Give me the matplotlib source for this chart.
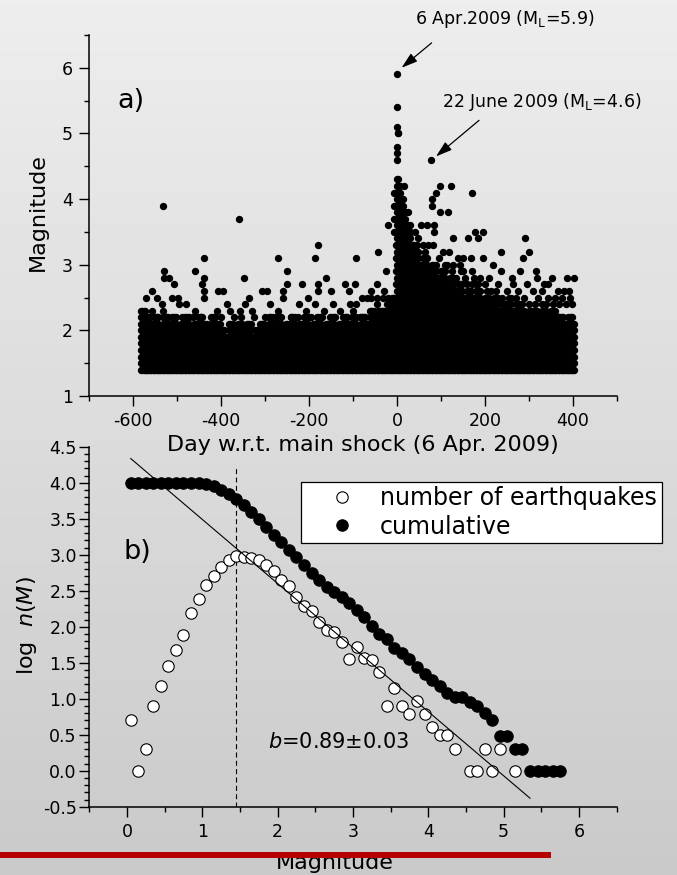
import numpy as np
import matplotlib
matplotlib.use('Agg')
import matplotlib.pyplot as plt
from matplotlib.lines import Line2D
from matplotlib.ticker import MultipleLocator, FormatStrFormatter

plt.rcParams['font.family'] = ['DejaVu Sans']
plt.rcParams['axes.unicode_minus'] = False
plt.rcParams['mathtext.default'] = 'regular'

# ---- panel a: catalogue, day relative to main shock vs magnitude ----
# dense part of the catalogue: day ranges and the top magnitude reached in each range
seg_start = [-582, -572, -562, -552, -542, -532, -522, -512, -502, -492,
             -482, -472, -462, -452, -442, -432, -422, -412, -402, -392,
             -382, -372, -362, -352, -342, -332, -322, -312, -302, -292,
             -282, -272, -262, -252, -242, -232, -222, -212, -202, -192,
             -182, -172, -162, -152, -142, -132, -122, -112, -102, -92,
             -82, -72, -62, -52, -42, -32, -22, -12,
             0, 5, 10, 15, 20, 30, 40, 50, 60, 70, 80, 90, 100, 110, 120, 130, 140,
             150, 160, 170, 180, 190, 200, 210, 220, 230, 240, 250, 260, 270, 280,
             290, 300, 310, 320, 330, 340, 350, 360, 370, 380, 390, 400]
seg_end = [-573, -563, -553, -543, -533, -523, -513, -503, -493, -483,
           -473, -463, -453, -443, -433, -423, -413, -403, -393, -383,
           -373, -363, -353, -343, -333, -323, -313, -303, -293, -283,
           -273, -263, -253, -243, -233, -223, -213, -203, -193, -183,
           -173, -163, -153, -143, -133, -123, -113, -103, -93, -83,
           -73, -63, -53, -43, -33, -23, -13, -1,
           4, 9, 14, 19, 29, 39, 49, 59, 69, 79, 89, 99, 109, 119, 129, 139, 149,
           159, 169, 179, 189, 199, 209, 219, 229, 239, 249, 259, 269, 279, 289,
           299, 309, 319, 329, 339, 349, 359, 369, 379, 389, 399, 405]
seg_top = [2.3, 2.2, 2.1, 2.2, 2.0, 2.2, 2.1, 2.2, 2.0, 2.1,
           2.2, 2.0, 2.1, 2.2, 2.1, 2.0, 2.2, 2.1, 2.0, 1.9,
           2.1, 2.0, 2.1, 2.0, 2.1, 1.9, 2.0, 2.1, 2.0, 2.2,
           2.1, 2.2, 2.0, 2.1, 2.2, 2.0, 2.1, 2.2, 2.0, 2.1,
           2.2, 2.0, 2.1, 2.2, 2.0, 2.1, 2.2, 2.1, 2.2, 2.0,
           2.2, 2.1, 2.3, 2.2, 2.3, 2.3, 2.4, 2.5,
           4.3, 4.2, 4.0, 3.8, 3.6, 3.3, 3.2, 3.0, 3.1, 2.9, 3.0, 2.8, 2.9, 2.7, 2.8, 2.6, 2.7,
           2.5, 2.6, 2.5, 2.6, 2.4, 2.5, 2.4, 2.5, 2.3, 2.4, 2.4, 2.3, 2.4, 2.3,
           2.2, 2.3, 2.3, 2.2, 2.3, 2.2, 2.3, 2.2, 2.2, 2.1, 2.2, 2.1]

# isolated events above the dense part
ev_day = [-533, -359, -180, -440, -271, -186, -92, -42,
          -529, -459, -251, -25, -529, -518, -438, -348, -161,
          -507, -444, -249, -215, -180, -118, -96, -46,
          -557, -438, -408, -395, -306, -296, -259, -180, -150, -110, -60, -30,
          -570, -547, -512, -499, -438, -336, -259, -202, -80, -69, -58, -45, -31, -20,
          -535, -495, -481, -386, -346, -289, -222, -186, -145, -107, -92, -46,
          -557, -533, -459, -409, -380, -357, -329, -270, -207, -165, -130, -100,
          -575, -545, -520, -490, -465, -445, -415, -400, -370, -355, -325,
          -300, -275, -240, -225, -195, -170, -140, -115, -85, -75,
          -6, -6, -6, -6, -3, -3, -3, -3,
          0, 1, 1, 2, 3, 1, 1, 1,
          77, 17, 98, 123, 88, 172, 79, 81, 26, 98, 117,
          -20, 56, 68, 85, 30, 41, 85, 178, 196,
          49, 128, 162, 185, 291, 71, 83,
          105, 119, 238, 301, 138, 151, 168, 195, 286,
          128, 143, 219, 238, 280, 316, 150, 170,
          261, 318, 353, 386, 403, 155, 190, 210,
          170, 181, 200, 295, 335, 344, 230, 265,
          367, 392, 215, 250, 275, 310, 330, 380,
          260, 290, 320, 345, 360, 375, 395,
          355, 370, 385, 398,
          45, 60, 95, 110, 65, 100, 115, 125, 135, 145, 160, 175,
          185, 205, 225, 240, 255, 270, 285, 300, 315, 330, 340]
ev_mag = [3.9, 3.7, 3.3, 3.1, 3.1, 3.1, 3.1, 3.2,
          2.9, 2.9, 2.9, 2.9, 2.8, 2.8, 2.8, 2.8, 2.8,
          2.7, 2.7, 2.7, 2.7, 2.7, 2.7, 2.7, 2.7,
          2.6, 2.6, 2.6, 2.6, 2.6, 2.6, 2.6, 2.6, 2.6, 2.6, 2.6, 2.6,
          2.5, 2.5, 2.5, 2.5, 2.5, 2.5, 2.5, 2.5, 2.5, 2.5, 2.5, 2.5, 2.5, 2.5,
          2.4, 2.4, 2.4, 2.4, 2.4, 2.4, 2.4, 2.4, 2.4, 2.4, 2.4, 2.4,
          2.3, 2.3, 2.3, 2.3, 2.3, 2.3, 2.3, 2.3, 2.3, 2.3, 2.3, 2.3,
          2.2, 2.2, 2.2, 2.2, 2.2, 2.2, 2.2, 2.2, 2.2, 2.2, 2.2,
          2.2, 2.2, 2.2, 2.2, 2.2, 2.2, 2.2, 2.2, 2.2, 2.2,
          4.1, 3.9, 3.7, 3.5, 3.3, 3.1, 2.9, 2.7,
          5.9, 5.4, 5.1, 5.0, 5.0, 4.8, 4.7, 4.6,
          4.6, 4.2, 4.2, 4.2, 4.1, 4.1, 4.0, 3.9, 3.8, 3.8, 3.8,
          3.6, 3.6, 3.6, 3.6, 3.5, 3.5, 3.5, 3.5, 3.5,
          3.4, 3.4, 3.4, 3.4, 3.4, 3.3, 3.3,
          3.2, 3.2, 3.2, 3.2, 3.1, 3.1, 3.1, 3.1, 3.1,
          3.0, 3.0, 3.0, 2.9, 2.9, 2.9, 2.9, 2.9,
          2.8, 2.8, 2.8, 2.8, 2.8, 2.8, 2.8, 2.8,
          2.7, 2.7, 2.7, 2.7, 2.7, 2.7, 2.7, 2.7,
          2.6, 2.6, 2.6, 2.6, 2.6, 2.6, 2.6, 2.6,
          2.5, 2.5, 2.5, 2.5, 2.5, 2.5, 2.5,
          2.4, 2.4, 2.4, 2.4,
          3.3, 3.3, 3.1, 3.0, 3.2, 2.9, 3.0, 2.9, 2.8, 2.9, 2.7, 2.8,
          2.7, 2.6, 2.6, 2.5, 2.5, 2.5, 2.4, 2.4, 2.4, 2.4, 2.4]

# ---- panel b: frequency-magnitude distribution ----
m_n = [0.05, 0.15, 0.25, 0.35, 0.45, 0.55, 0.65, 0.75, 0.85, 0.95,
       1.05, 1.15, 1.25, 1.35, 1.45, 1.55, 1.65, 1.75, 1.85, 1.95,
       2.05, 2.15, 2.25, 2.35, 2.45, 2.55, 2.65, 2.75, 2.85, 2.95,
       3.05, 3.15, 3.25, 3.35, 3.45, 3.55, 3.65, 3.75, 3.85, 3.95,
       4.05, 4.15, 4.25, 4.35, 4.55, 4.65, 4.75, 4.85, 4.95, 5.15]
log_n = [0.70, 0.00, 0.30, 0.90, 1.18, 1.46, 1.67, 1.88, 2.19, 2.39,
         2.58, 2.71, 2.83, 2.92, 2.98, 2.97, 2.95, 2.93, 2.86, 2.77,
         2.65, 2.56, 2.41, 2.29, 2.22, 2.07, 1.95, 1.93, 1.79, 1.55,
         1.72, 1.57, 1.54, 1.37, 0.90, 1.15, 0.90, 0.79, 0.97, 0.79,
         0.61, 0.49, 0.49, 0.30, 0.00, 0.00, 0.30, 0.00, 0.30, 0.00]

m_cum = [0.05, 0.15, 0.25, 0.35, 0.45, 0.55, 0.65, 0.75, 0.85, 0.95,
         1.05, 1.15, 1.25, 1.35, 1.45, 1.55, 1.65, 1.75, 1.85, 1.95,
         2.05, 2.15, 2.25, 2.35, 2.45, 2.55, 2.65, 2.75, 2.85, 2.95,
         3.05, 3.15, 3.25, 3.35, 3.45, 3.55, 3.65, 3.75, 3.85, 3.95,
         4.05, 4.15, 4.25, 4.35, 4.45, 4.55, 4.65, 4.75, 4.85, 4.95,
         5.05, 5.15, 5.25, 5.35, 5.45, 5.55, 5.65, 5.75]
log_cum = [4.00, 4.00, 4.00, 4.00, 4.00, 4.00, 4.00, 4.00, 4.00, 3.99,
           3.98, 3.96, 3.90, 3.85, 3.77, 3.69, 3.59, 3.50, 3.39, 3.28,
           3.18, 3.07, 2.97, 2.86, 2.75, 2.65, 2.55, 2.48, 2.41, 2.33,
           2.23, 2.13, 2.01, 1.90, 1.83, 1.71, 1.63, 1.55, 1.44, 1.34,
           1.26, 1.17, 1.08, 1.02, 1.02, 0.96, 0.90, 0.80, 0.70, 0.48,
           0.48, 0.30, 0.30, 0.00, 0.00, 0.00, 0.00, 0.00]

b_value = 0.89
b_err = 0.03
a_value = 4.38
fit_range = [0.05, 5.35]
mc = 1.45

W, H = 677, 875
fig = plt.figure(figsize=(W / 100, H / 100), dpi=100)

# paper-like grey background, lighter at the top
bg = fig.add_axes([0, 0, 1, 1], zorder=-10)
grad = np.linspace(0.93, 0.79, 200).reshape(-1, 1)
bg.imshow(grad, aspect='auto', cmap='gray', vmin=0, vmax=1, extent=[0, 1, 0, 1])
bg.axis('off')


def style_axes(ax, ylabel_pad):
    ax.set_facecolor('none')
    for s in ['top', 'right']:
        ax.spines[s].set_visible(False)
    for s in ['left', 'bottom']:
        ax.spines[s].set_linewidth(1.1)
    ax.tick_params(which='major', direction='out', length=7, width=1.0, labelsize=12.5)
    ax.tick_params(which='minor', direction='out', length=3.6, width=1.0)
    ax.tick_params(axis='y', which='major', pad=ylabel_pad)
    ax.tick_params(axis='x', which='major', pad=4.5)


ax1 = fig.add_axes([89.3 / W, 1 - 396 / H, 527.3 / W, 361 / H])
ax2 = fig.add_axes([89.3 / W, 1 - 806.7 / H, 527.3 / W, 360 / H])

# dense part drawn as one event per 3 days and per 0.1 magnitude step
fill_day, fill_mag = [], []
for d0, d1, top in zip(seg_start, seg_end, seg_top):
    mags = np.round(np.arange(1.4, top + 0.05, 0.1), 1)
    for d in range(d0, d1 + 1, 3):
        fill_day.extend([d] * len(mags))
        fill_mag.extend(mags)

ax1.scatter(fill_day, fill_mag, s=28, c='k', linewidths=0)
ax1.scatter(ev_day, ev_mag, s=28, c='k', linewidths=0)
ax1.set_xlim(-700, 500)
ax1.set_ylim(1, 6.5)
ax1.xaxis.set_major_locator(MultipleLocator(200))
ax1.xaxis.set_minor_locator(MultipleLocator(100))
ax1.yaxis.set_major_locator(MultipleLocator(1))
ax1.yaxis.set_minor_locator(MultipleLocator(0.5))
style_axes(ax1, 5)

ax1.text(-605, 5.5, 'a)', fontsize=19.5, ha='center', va='center')
arrow = dict(arrowstyle='-|>,head_length=0.7,head_width=0.22', color='k', lw=0.9,
             shrinkA=0, shrinkB=0, mutation_scale=14)
ax1.annotate('', xy=(10.6, 6.0), xytext=(79, 6.38), arrowprops=arrow, annotation_clip=False)
ax1.text(246, 6.75, '6 Apr.2009 (M$_L$=5.9)', fontsize=12.5, ha='center', va='center',
         clip_on=False)
ax1.annotate('', xy=(89, 4.65), xytext=(187, 5.2), arrowprops=arrow, annotation_clip=False)
ax1.text(329, 5.48, '22 June 2009 (M$_L$=4.6)', fontsize=12.5, ha='center', va='center',
         clip_on=False)

# fitted Gutenberg-Richter line, log n = a - b M
fit_m = np.array(fit_range)
ax2.plot(fit_m, a_value - b_value * fit_m, color='k', lw=0.8, zorder=4)
ax2.plot([mc, mc], [-0.5, 4.2], color='k', lw=0.8, linestyle=(0, (4.5, 3)), zorder=1)
ax2.plot(m_n, log_n, 'o', ls='none', ms=8.2, mfc='white', mec='k', mew=0.8, zorder=3,
         label='number of earthquakes')
ax2.plot(m_cum, log_cum, 'o', ls='none', ms=8.2, mfc='k', mec='k', mew=0.8, zorder=2,
         label='cumulative')
ax2.set_xlim(-0.5, 6.5)
ax2.set_ylim(-0.5, 4.5)
ax2.xaxis.set_major_locator(MultipleLocator(1))
ax2.xaxis.set_minor_locator(MultipleLocator(0.5))
ax2.yaxis.set_major_locator(MultipleLocator(0.5))
ax2.yaxis.set_minor_locator(MultipleLocator(0.1))
ax2.yaxis.set_major_formatter(FormatStrFormatter('%.1f'))
style_axes(ax2, 2)

ax2.text(0.14, 3.04, 'b)', fontsize=19.5, ha='center', va='center')
ax2.text(1.87, 0.40, r'$\mathit{b}$=%.2f±%.2f' % (b_value, b_err), fontsize=15,
         ha='left', va='center')

leg = ax2.legend(loc='upper left', bbox_to_anchor=(0.4015, 0.9028), borderaxespad=0,
                 fontsize=17, markerscale=1.0, handlelength=3.1, handletextpad=0.05,
                 borderpad=0.2, labelspacing=0.18, fancybox=False, framealpha=1,
                 edgecolor='k', facecolor='white')
leg.get_frame().set_linewidth(0.9)

# axis titles
fig.text(363 / W, 1 - 450.7 / H, 'Day w.r.t. main shock (6 Apr. 2009)', fontsize=16,
         ha='center', va='baseline')
fig.text(37.8 / W, 1 - 211.7 / H, 'Magnitude', fontsize=16, rotation=90,
         ha='center', va='center')
fig.text(27 / W, 1 - 626 / H, r'log  $\mathit{n}$($\mathit{M}$)', fontsize=16, rotation=90,
         ha='center', va='center')
fig.text(335 / W, 1 - 869.3 / H, 'Magnitude', fontsize=16, ha='center', va='baseline')

# red rule across the bottom of the slide
fig.add_artist(Line2D([0, 547.5 / W], [1 - 855 / H, 1 - 855 / H], lw=4.3, color='#b40000',
                      transform=fig.transFigure, zorder=20))

fig.savefig('out.png', dpi=100)
